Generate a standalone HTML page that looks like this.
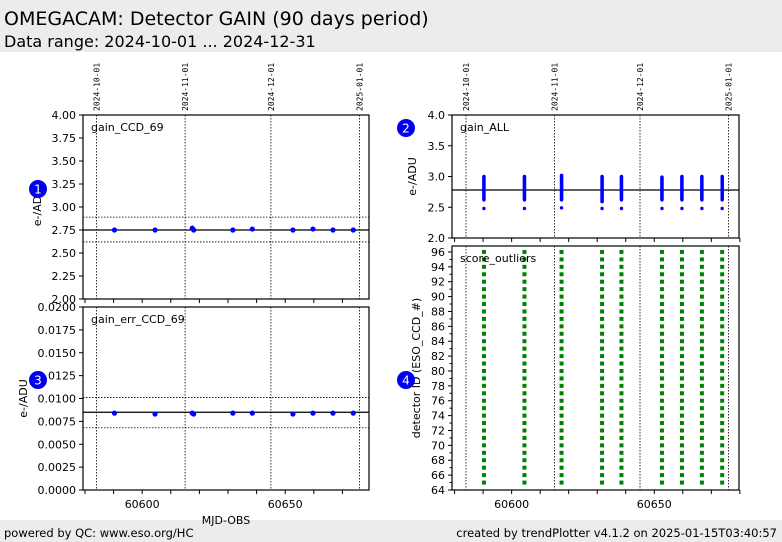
<!DOCTYPE html>
<html><head><meta charset="utf-8">
<style>
body{margin:0;width:782px;height:542px;background:#fff;overflow:hidden;font-family:"DejaVu Sans","Liberation Sans",sans-serif;}
svg{display:block}
</style></head>
<body>
<svg id="chart" width="782" height="542" xmlns="http://www.w3.org/2000/svg" font-family="DejaVu Sans, Liberation Sans, sans-serif">
<rect x="0" y="0" width="782" height="52" fill="#ececec"/>
<text x="4" y="25" font-size="19" fill="#000">OMEGACAM: Detector GAIN (90 days period)</text>
<text x="4" y="47" font-size="16" fill="#000">Data range: 2024-10-01 ... 2024-12-31</text>
<rect x="0" y="520" width="782" height="22" fill="#ececec"/>
<text x="4" y="537" font-size="11.5">powered by QC: www.eso.org/HC</text>
<text x="777" y="537" font-size="11.5" text-anchor="end">created by trendPlotter v4.1.2 on 2025-01-15T03:40:57</text>
<g id="plots"></g>
</svg>
<script>
const mjd = [60590.3, 60604.5, 60617.5, 60631.7, 60638.5, 60652.7, 60659.7, 60666.7, 60673.8];
const gainCCD = [2.75, 2.75, 2.77, 2.75, 2.76, 2.75, 2.76, 2.75, 2.75];
const gainCCDExtraMjd = [60618.0];
const gainCCDExtra = [2.75];
const gainCCDRef = [2.75, 2.89, 2.62];
const gainErr = [0.0084, 0.0083, 0.0084, 0.0084, 0.0084, 0.0083, 0.0084, 0.0084, 0.0084];
const gainErrExtra = [0.0083];
const gainErrRef = [0.0085, 0.0101, 0.0068];
const gainAllLo = [2.62, 2.62, 2.62, 2.59, 2.62, 2.62, 2.62, 2.62, 2.62];
const gainAllHi = [3.00, 3.00, 3.02, 3.00, 3.00, 2.99, 3.00, 3.00, 3.00];
const gainAllOut = [2.48, 2.48, 2.49, 2.48, 2.48, 2.48, 2.48, 2.48, 2.48];
const gainAllRef = [2.78];
const detLo = 65, detHi = 96;
const dateMjd = [60584, 60615, 60645, 60676];
const dateLabels = ["2024-10-01", "2024-11-01", "2024-12-01", "2025-01-01"];
const xTicks = [60600, 60650];
const ticksCCD = ["2.00","2.25","2.50","2.75","3.00","3.25","3.50","3.75","4.00"];
const ticksErr = ["0.0000","0.0025","0.0050","0.0075","0.0100","0.0125","0.0150","0.0175","0.0200"];
const ticksAll = ["2.0","2.5","3.0","3.5","4.0"];
const ticksDet = ["64","66","68","70","72","74","76","78","80","82","84","86","88","90","92","94","96"];

const NS = "http://www.w3.org/2000/svg";
const root = document.getElementById('plots');
function mk(tag, attrs, parent){const e=document.createElementNS(NS,tag);for(const k in attrs)e.setAttribute(k,attrs[k]);(parent||root).appendChild(e);return e;}

function panel(name, x0, x1, y0, y1, xd0, xd1, yd0, yd1){
  const g = mk('g',{});
  
  
  const sx = v => x0 + (v-xd0)/(xd1-xd0)*(x1-x0);
  const sy = v => y1 - (v-yd0)/(yd1-yd0)*(y1-y0);
  return {g, sx, sy, x0, x1, y0, y1};
}
function frame(p){
  const r = mk('rect',{x:p.x0,y:p.y0,width:p.x1-p.x0,height:p.y1-p.y0,fill:'none',stroke:'#000','stroke-width':1.2},p.g);
  
  
}
function dateLines(p, labels){
  dateMjd.forEach((m,i)=>{
    const x = p.sx(m);
    const l = mk('line',{x1:x,x2:x,y1:p.y0,y2:p.y1,stroke:'#000','stroke-width':0.8,'stroke-dasharray':'1.5,1.5'},p.g);
    
    
    if(labels){
      const t = mk('text',{x:0,y:0,'font-size':8,'font-family':'DejaVu Sans Mono, Liberation Mono, monospace',transform:`translate(${x+3},${p.y0-4}) rotate(-90)`},p.g);
      t.textContent = dateLabels[i];
      
      
    }
  });
}
function xAxis(p, labels){
  for(let m=60580;m<=60680;m+=10){
    const x=p.sx(m); if(x<p.x0-1||x>p.x1+1) continue;
    mk('line',{x1:x,x2:x,y1:p.y1,y2:p.y1+4,stroke:'#000','stroke-width':1},p.g);
  }
  if(labels) xTicks.forEach(m=>{
    const t=mk('text',{x:p.sx(m),y:p.y1+18,'font-size':11,'text-anchor':'middle'},p.g);
    t.textContent=m;
    
    
  });
}
function yAxis(p, ticks, minor){
  const n=ticks.length;
  ticks.forEach((lab,i)=>{
    const v=parseFloat(lab);
    const y=p.sy(v);
    mk('line',{x1:p.x0-4,x2:p.x0,y1:y,y2:y,stroke:'#000','stroke-width':1},p.g);
    const t=mk('text',{x:p.x0-7,y:y+4,'font-size':11,'text-anchor':'end'},p.g);
    t.textContent=lab;
    
    
    if(minor && i<n-1){
      const ym=p.sy((v+parseFloat(ticks[i+1]))/2);
      mk('line',{x1:p.x0-2.5,x2:p.x0,y1:ym,y2:ym,stroke:'#000','stroke-width':1},p.g);
    }
  });
}
function hline(p, v, dotted){
  const y=p.sy(v);
  const l=mk('line',{x1:p.x0,x2:p.x1,y1:y,y2:y,stroke:'#000','stroke-width':dotted?0.8:1.2,'stroke-dasharray':dotted?'1.5,1.5':'none'},p.g);
  
  
}
function label(p, txt){
  const t=mk('text',{x:p.x0+8,y:p.y0+16,'font-size':11},p.g);
  t.textContent=txt;
  
  
}
function ylabel(p, txt, x){
  const cy=(p.y0+p.y1)/2;
  const t=mk('text',{x:0,y:0,'font-size':11,'text-anchor':'middle',transform:`translate(${x},${cy}) rotate(-90)`},p.g);
  t.textContent=txt;
  
  
}
function dot(p, m, v, r, col){
  const c=mk('circle',{cx:p.sx(m),cy:p.sy(v),r:r,fill:col},p.g);
  
  
}
function badge(x,y,n){
  const c=mk('circle',{cx:x,cy:y,r:9,fill:'#0000ee'});
  
  
  const t=mk('text',{x:x,y:y+4.5,'font-size':12,fill:'#fff','text-anchor':'middle'});
  t.textContent=n;
  
  
}

const XD0=60579.3, XD1=60679.3;
// Panel 1
let p=panel('gain-ccd69-panel',83,369,115,299,XD0,XD1,2,4);
dateLines(p,true); gainCCDRef.forEach((v,i)=>hline(p,v,i>0));
mjd.forEach((m,i)=>dot(p,m,gainCCD[i],2.6,'#0000ff'));
gainCCDExtraMjd.forEach((m,i)=>dot(p,m,gainCCDExtra[i],2.6,'#0000ff'));
frame(p); xAxis(p,false); yAxis(p,ticksCCD,false); label(p,'gain_CCD_69'); ylabel(p,'e-/ADU',41);
// Panel 3
p=panel('gain-err-ccd69-panel',83,369,307,490,XD0,XD1,0,0.02);
dateLines(p,false); gainErrRef.forEach((v,i)=>hline(p,v,i>0));
mjd.forEach((m,i)=>dot(p,m,gainErr[i],2.6,'#0000ff'));
gainCCDExtraMjd.forEach((m,i)=>dot(p,m,gainErrExtra[i],2.6,'#0000ff'));
frame(p); xAxis(p,true); yAxis(p,ticksErr,false); label(p,'gain_err_CCD_69'); ylabel(p,'e-/ADU',27);
let xt=mk('text',{x:226,y:524,'font-size':11,'text-anchor':'middle'});
xt.textContent='MJD-OBS';


// Panel 2
p=panel('gain-all-panel',452,739,115,238,60579.1,60679.7,2,4);
dateLines(p,true); gainAllRef.forEach(v=>hline(p,v,false));
mjd.forEach((m,i)=>{
  for(let v=gainAllLo[i]; v<=gainAllHi[i]+1e-9; v+=0.01) dot(p,m,v,1.7,'#0000ff');
  dot(p,m,gainAllOut[i],1.7,'#0000ff');
});
frame(p); xAxis(p,false); yAxis(p,ticksAll,false); label(p,'gain_ALL'); ylabel(p,'e-/ADU',416);
// Panel 4
p=panel('score-outliers-panel',452,739,246,490,60579.1,60679.7,64,96.8);
dateLines(p,false);
mjd.forEach(m=>{
  for(let d=detLo; d<=detHi; d++){
    const r=mk('rect',{x:p.sx(m)-2,y:p.sy(d)-2,width:4,height:4,fill:'#008000'},p.g);
    
    
  }
});
frame(p); xAxis(p,true); yAxis(p,ticksDet,true); label(p,'score_outliers'); ylabel(p,'detector ID (ESO_CCD_#)',420);

badge(38,189,'1'); badge(406,128,'2'); badge(38,380,'3'); badge(406,380,'4');
</script>
</body></html>
